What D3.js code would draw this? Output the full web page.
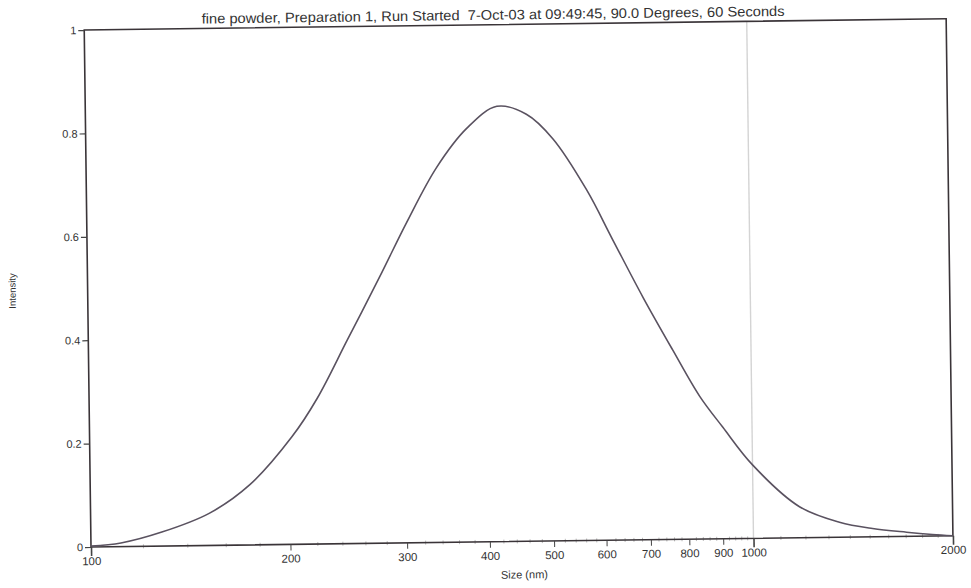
<!DOCTYPE html>
<html><head><meta charset="utf-8">
<script src="https://cdn.jsdelivr.net/npm/d3@7"></script>
<style>
body{margin:0;background:#fff;}
svg{display:block;}
text{font-family:"Liberation Sans",Arial,sans-serif;fill:#333;}
</style></head>
<body><svg id="c" width="971" height="588"></svg>
<script>
// Data
const sizes = [100, 111, 128, 151, 174, 202, 221, 246, 276, 304, 338, 376, 418, 463, 507, 569, 621, 688, 762, 835, 903, 1000, 1175, 1349, 1513, 1702, 1862, 2000];
const intensity = [0.002, 0.007, 0.027, 0.062, 0.116, 0.208, 0.282, 0.394, 0.515, 0.620, 0.725, 0.800, 0.842, 0.826, 0.778, 0.678, 0.582, 0.470, 0.366, 0.276, 0.216, 0.142, 0.060, 0.029, 0.016, 0.008, 0.003, 0.0];
const xTickValues = [100, 200, 300, 400, 500, 600, 700, 800, 900, 1000, 2000];
const yTickValues = [0, 0.2, 0.4, 0.6, 0.8, 1];
const titleText = "fine powder, Preparation 1, Run Started  7-Oct-03 at 09:49:45, 90.0 Degrees, 60 Seconds";
const xLabel = "Size (nm)";
const yLabel = "Intensity";

const L = 91, R = 953, T = 30, B = 547;
const svg = d3.select("#c");
const g = svg.append("g").attr("transform", `rotate(-0.75, ${L}, ${B})`);

const x = d3.scaleLog().domain([100, 2000]).range([L, R]);
const y = d3.scaleLinear().domain([0, 1]).range([B, T]);

// faint scan line at 1000
g.append("line").attr("x1", x(1000)).attr("x2", x(1000)).attr("y1", T).attr("y2", B)
  .attr("stroke", "#d4d4d4").attr("stroke-width", 1.4);

// minor x ticks
const minor = [];
for (let v = 120; v < 1000; v += 20) if (v % 100 !== 0) minor.push(v);
for (let v = 1100; v < 2000; v += 100) minor.push(v);
g.append("g").selectAll("line").data(minor).join("line")
  .attr("x1", d => x(d)).attr("x2", d => x(d)).attr("y1", B - 2).attr("y2", B + 2)
  .attr("stroke", "#aaa").attr("stroke-width", 0.8);

// frame
g.append("rect").attr("x", L).attr("y", T).attr("width", R - L).attr("height", B - T)
  .attr("fill", "none").attr("stroke", "#3a3438").attr("stroke-width", 1.6);

// x axis
const xAxis = d3.axisBottom(x).tickValues(xTickValues).tickFormat(d3.format("d"))
  .tickSize(0).tickPadding(10);
const xg = g.append("g").attr("transform", `translate(0,${B})`).call(xAxis);
xg.select(".domain").remove();
xg.selectAll("text").attr("font-size", 11.5).attr("fill", "#333").style("font-family", "Liberation Sans, Arial, sans-serif");
xg.selectAll(".tick").append("line")
  .attr("y1", 0).attr("y2", d => (d === 100 || d === 1000 || d === 2000) ? 9 : 6)
  .attr("stroke", "#444").attr("stroke-width", d => (d === 100 || d === 1000 || d === 2000) ? 1.6 : 1);

// y axis
const yAxis = d3.axisLeft(y).tickValues(yTickValues).tickFormat(d => d === 0 ? "0" : d === 1 ? "1" : d3.format(".1f")(d))
  .tickSize(6).tickPadding(2);
const yg = g.append("g").attr("transform", `translate(${L},0)`).call(yAxis);
yg.select(".domain").remove();
yg.selectAll("line").attr("stroke", "#444").attr("stroke-width", 1.2);
yg.selectAll("text").attr("font-size", 11).attr("fill", "#333").style("font-family", "Liberation Sans, Arial, sans-serif");

// curve
const line = d3.line().x((d, i) => x(sizes[i])).y(d => y(d)).curve(d3.curveCatmullRom.alpha(0.5));
g.append("path").datum(intensity).attr("d", line)
  .attr("fill", "none").attr("stroke", "#5a5260").attr("stroke-width", 1.6);

// title
g.append("text").attr("x", 500).attr("y", 25).attr("text-anchor", "middle")
  .attr("font-size", 14).attr("fill", "#222")
  .attr("textLength", 583).attr("lengthAdjust", "spacingAndGlyphs")
  .style("white-space", "pre").text(titleText);

// x label
g.append("text").attr("x", 524).attr("y", 584).attr("text-anchor", "middle")
  .attr("font-size", 11).text(xLabel);

// y label
g.append("text").attr("transform", "translate(19,290) rotate(-90)").attr("text-anchor", "middle")
  .attr("font-size", 9.5).text(yLabel);
</script></body></html>
